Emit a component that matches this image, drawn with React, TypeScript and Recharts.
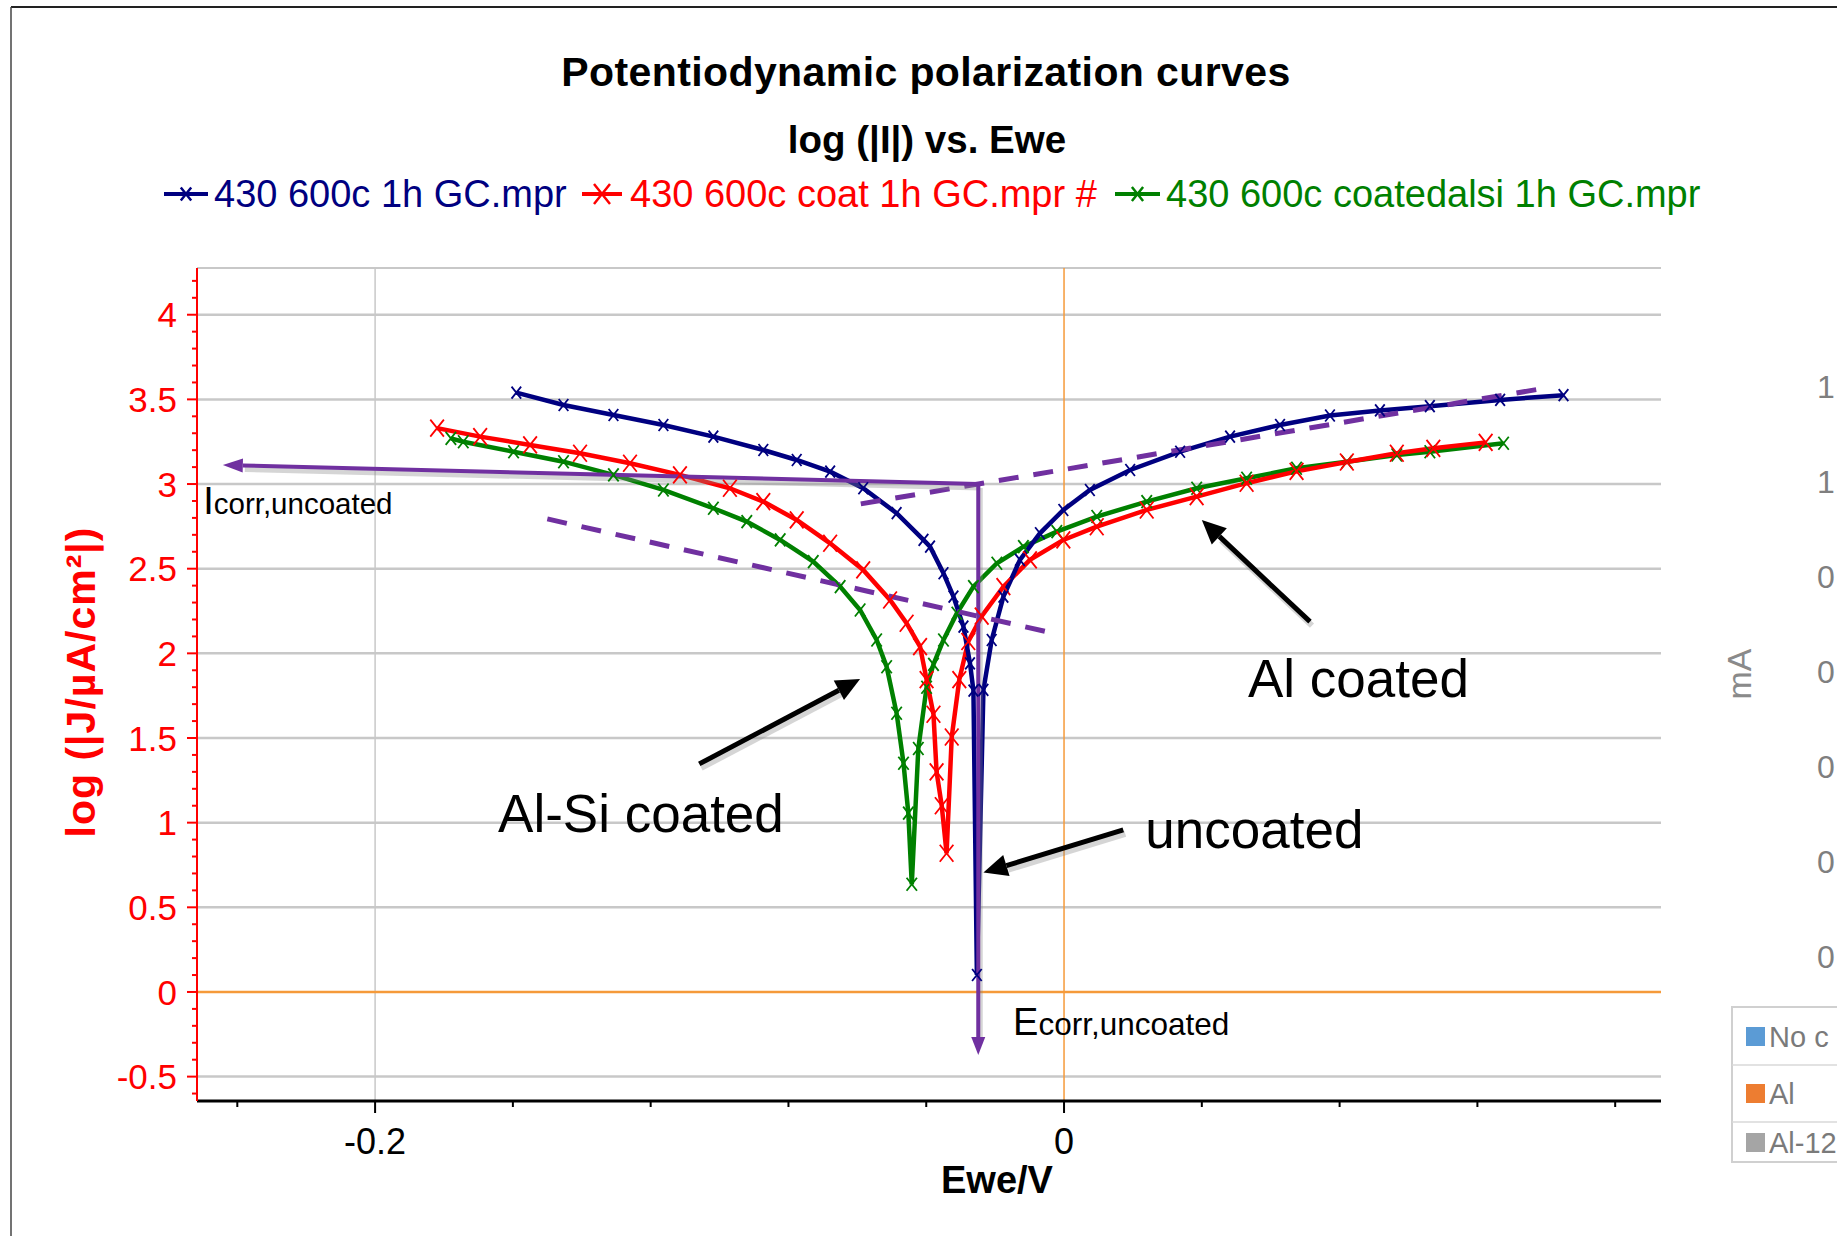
import React from 'react';
import { ComposedChart, Line, XAxis, YAxis, ReferenceLine, ReferenceDot } from 'recharts';

// log|J| vs Ewe
const uncoated = [
  { e: -0.159, j: 3.54 }, { e: -0.1453, j: 3.467 }, { e: -0.1308, j: 3.408 }, { e: -0.1163, j: 3.349 },
  { e: -0.1018, j: 3.28 }, { e: -0.0873, j: 3.201 }, { e: -0.0776, j: 3.142 }, { e: -0.0679, j: 3.073 },
  { e: -0.0583, j: 2.975 }, { e: -0.0486, j: 2.828 }, { e: -0.0408, j: 2.67 }, { e: -0.0389, j: 2.63 },
  { e: -0.035, j: 2.473 }, { e: -0.0321, j: 2.335 }, { e: -0.0292, j: 2.158 }, { e: -0.0273, j: 1.941 },
  { e: -0.0263, j: 1.78 }, { e: -0.0253, j: 0.1 }, { e: -0.0234, j: 1.784 }, { e: -0.021, j: 2.079 },
  { e: -0.0176, j: 2.335 }, { e: -0.0128, j: 2.552 }, { e: -0.007, j: 2.709 }, { e: -0.0002, j: 2.847 },
  { e: 0.0075, j: 2.965 }, { e: 0.0192, j: 3.083 }, { e: 0.0337, j: 3.191 }, { e: 0.0482, j: 3.28 },
  { e: 0.0627, j: 3.349 }, { e: 0.0772, j: 3.405 }, { e: 0.0917, j: 3.435 }, { e: 0.1062, j: 3.46 },
  { e: 0.1266, j: 3.497 }, { e: 0.145, j: 3.525 },
];

const alCoated = [
  { e: -0.182, j: 3.33 }, { e: -0.1695, j: 3.28 }, { e: -0.155, j: 3.231 }, { e: -0.1405, j: 3.182 },
  { e: -0.126, j: 3.123 }, { e: -0.1115, j: 3.054 }, { e: -0.097, j: 2.975 }, { e: -0.0873, j: 2.896 },
  { e: -0.0776, j: 2.788 }, { e: -0.0679, j: 2.65 }, { e: -0.0583, j: 2.493 }, { e: -0.0505, j: 2.315 },
  { e: -0.0457, j: 2.178 }, { e: -0.0418, j: 2.04 }, { e: -0.0399, j: 1.845 }, { e: -0.0379, j: 1.64 },
  { e: -0.037, j: 1.3 }, { e: -0.0355, j: 1.1 }, { e: -0.0341, j: 0.819 }, { e: -0.0326, j: 1.506 },
  { e: -0.0304, j: 1.845 }, { e: -0.0278, j: 2.07 }, { e: -0.0239, j: 2.22 }, { e: -0.0176, j: 2.394 },
  { e: -0.0099, j: 2.552 }, { e: -0.0002, j: 2.67 }, { e: 0.0095, j: 2.748 }, { e: 0.024, j: 2.847 },
  { e: 0.0385, j: 2.926 }, { e: 0.053, j: 3.005 }, { e: 0.0675, j: 3.075 }, { e: 0.0821, j: 3.13 },
  { e: 0.0966, j: 3.182 }, { e: 0.1072, j: 3.211 }, { e: 0.1224, j: 3.246 },
];

const alSiCoated = [
  { e: -0.178, j: 3.27 }, { e: -0.1744, j: 3.25 }, { e: -0.1598, j: 3.191 }, { e: -0.1453, j: 3.132 },
  { e: -0.1308, j: 3.054 }, { e: -0.1163, j: 2.965 }, { e: -0.1018, j: 2.857 }, { e: -0.0921, j: 2.778 },
  { e: -0.0824, j: 2.67 }, { e: -0.0728, j: 2.542 }, { e: -0.065, j: 2.394 }, { e: -0.0592, j: 2.256 },
  { e: -0.0544, j: 2.079 }, { e: -0.0515, j: 1.921 }, { e: -0.0486, j: 1.646 }, { e: -0.0466, j: 1.351 },
  { e: -0.0452, j: 1.056 }, { e: -0.0442, j: 0.636 }, { e: -0.0423, j: 1.438 }, { e: -0.0399, j: 1.8 },
  { e: -0.0379, j: 1.935 }, { e: -0.035, j: 2.079 }, { e: -0.0311, j: 2.237 }, { e: -0.0263, j: 2.394 },
  { e: -0.0195, j: 2.532 }, { e: -0.0118, j: 2.63 }, { e: -0.0021, j: 2.719 }, { e: 0.0095, j: 2.808 },
  { e: 0.024, j: 2.896 }, { e: 0.0385, j: 2.975 }, { e: 0.053, j: 3.034 }, { e: 0.0675, j: 3.093 },
  { e: 0.0821, j: 3.132 }, { e: 0.0966, j: 3.172 }, { e: 0.1062, j: 3.191 }, { e: 0.1276, j: 3.241 },
];

const xDomain = [-0.2517, 0.1733];
const yDomain = [-0.644, 4.276];
const xTicks = [-0.24, -0.2, -0.16, -0.12, -0.08, -0.04, 0, 0.04, 0.08, 0.12, 0.16];
const xLabelTicks = [-0.2, 0];
const yMajorTicks = [-0.5, 0, 0.5, 1, 1.5, 2, 2.5, 3, 3.5, 4];
const yTicks = [
  -0.6, -0.5, -0.4, -0.3, -0.2, -0.1, 0, 0.1, 0.2, 0.3, 0.4, 0.5, 0.6, 0.7, 0.8, 0.9, 1, 1.1, 1.2, 1.3,
  1.4, 1.5, 1.6, 1.7, 1.8, 1.9, 2, 2.1, 2.2, 2.3, 2.4, 2.5, 2.6, 2.7, 2.8, 2.9, 3, 3.1, 3.2, 3.3, 3.4,
  3.5, 3.6, 3.7, 3.8, 3.9, 4, 4.1, 4.2,
];

// Icorr / Ecorr construction and Tafel lines
const icorrPoint = { e: -0.0249, j: 3.0 };
const icorrArrowTip = { e: -0.2442, j: 3.113 };
const ecorrArrowTip = { e: -0.0249, j: -0.372 };
const anodicTafel = [{ e: -0.059, j: 2.883 }, { e: 0.1384, j: 3.562 }];
const cathodicTafel = [{ e: -0.15, j: 2.794 }, { e: -0.0046, j: 2.126 }];
const blackArrows = [
  [{ e: -0.1059, j: 1.347 }, { e: -0.0592, j: 1.848 }],
  [{ e: 0.0172, j: 0.957 }, { e: -0.0234, j: 0.705 }],
  [{ e: 0.0714, j: 2.187 }, { e: 0.04, j: 2.788 }],
];
const curveLabels = [
  { e: 0.0534, j: 1.744, text: 'Al coated' },
  { e: -0.1643, j: 0.945, text: 'Al-Si coated' },
  { e: 0.0236, j: 0.849, text: 'uncoated' },
];

const FONT = '"Liberation Sans", Arial, Helvetica, sans-serif';
const PURPLE = '#7030a0';
const ORANGE = '#f59a3a';
const GRID = '#c8c8c8';

const series = [
  { name: '430 600c coatedalsi 1h GC.mpr', data: alSiCoated, color: '#008000', mark: 13 },
  { name: '430 600c coat 1h GC.mpr #', data: alCoated, color: '#ff0000', mark: 17 },
  { name: '430 600c 1h GC.mpr', data: uncoated, color: '#000080', mark: 12 },
];
const legendItems = [
  { name: '430 600c 1h GC.mpr', color: '#000080', x0: 164, x1: 208, mark: 13, tx: 214 },
  { name: '430 600c coat 1h GC.mpr #', color: '#ff0000', x0: 582, x1: 622, mark: 20, tx: 630 },
  { name: '430 600c coatedalsi 1h GC.mpr', color: '#008000', x0: 1115, x1: 1160, mark: 14, tx: 1166 },
];
// clipped neighbour chart at the right edge of the slide
const sideTicks = ['1', '1', '0', '0', '0', '0', '0'];
const sideLegend = [
  { name: 'No c', color: '#5b9bd5' },
  { name: 'Al', color: '#ed7d31' },
  { name: 'Al-12', color: '#a5a5a5' },
];

const xMark = (color: string, size: number) => (p: any) => {
  const { cx, cy, index } = p;
  if (cx == null || cy == null) return <g key={index} />;
  const h = size / 2;
  return (
    <path
      key={index}
      d={`M${cx - h * 0.8},${cy - h}L${cx + h * 0.8},${cy + h}M${cx - h * 0.8},${cy + h}L${cx + h * 0.8},${cy - h}`}
      stroke={color}
      strokeWidth={1.8}
      fill="none"
    />
  );
};

const arrowShape = (color: string, width: number, headLen: number, headHalf: number) => (p: any) => {
  const x1 = Number(p.x1), y1 = Number(p.y1), x2 = Number(p.x2), y2 = Number(p.y2);
  const dx = x2 - x1, dy = y2 - y1;
  const len = Math.hypot(dx, dy) || 1;
  const ux = dx / len, uy = dy / len;
  const bx = x2 - ux * headLen, by = y2 - uy * headLen;
  const px = -uy, py = ux;
  const pts = `${x2},${y2} ${bx + px * headHalf},${by + py * headHalf} ${bx - px * headHalf},${by - py * headHalf}`;
  return (
    <g>
      <line x1={x1 + 2} y1={y1 + 4} x2={bx + 2} y2={by + 4} stroke="#888" strokeOpacity={0.35} strokeWidth={width + 1} />
      <line x1={x1} y1={y1} x2={bx} y2={by} stroke={color} strokeWidth={width} />
      <polygon points={pts} fill={color} />
    </g>
  );
};

const XTick = (p: any) => {
  const { x, y, payload } = p;
  const v = payload.value;
  const major = xLabelTicks.includes(v);
  return (
    <g>
      <line x1={x} x2={x} y1={y} y2={y + (major ? 12 : 6)} stroke="#000" strokeWidth={2} />
      {major && (
        <text x={x} y={y + 53} textAnchor="middle" fontSize={36} fill="#000" fontFamily={FONT}>
          {String(v)}
        </text>
      )}
    </g>
  );
};

const YTick = (p: any) => {
  const { x, y, payload } = p;
  const v = payload.value;
  const major = yMajorTicks.some((m) => Math.abs(m - v) < 1e-6);
  return (
    <g>
      <line x1={x - (major ? 10 : 5)} x2={x} y1={y} y2={y} stroke="#ff0000" strokeWidth={2} />
      {major && (
        <text x={x - 20} y={y} dy="0.36em" textAnchor="end" fontSize={35} fill="#ff0000" fontFamily={FONT}>
          {String(v)}
        </text>
      )}
    </g>
  );
};

const labelShape = (text: string, size: number) => (p: any) => (
  <text x={p.cx} y={p.cy} fontSize={size} fill="#000" fontFamily={FONT}>
    {text}
  </text>
);

const subLabelShape = (big: string, small: string, smallSize: number) => (p: any) => (
  <text x={p.cx} y={p.cy} fill="#000" fontFamily={FONT}>
    <tspan fontSize={38}>{big}</tspan>
    <tspan fontSize={smallSize}>{small}</tspan>
  </text>
);

export default function App() {
  return (
    <div
      style={{
        position: 'absolute',
        left: 0,
        top: 0,
        width: 1837,
        height: 1236,
        overflow: 'hidden',
        background: '#fff',
        fontFamily: FONT,
      }}
    >
      <ComposedChart width={1837} height={1236} margin={{ top: 268, right: 176, bottom: 0, left: 0 }}>
        <XAxis
          type="number"
          dataKey="e"
          domain={xDomain}
          ticks={xTicks}
          interval={0}
          tick={XTick}
          tickLine={false}
          tickSize={0}
          tickMargin={0}
          height={135}
          axisLine={{ stroke: '#000', strokeWidth: 3 }}
          allowDataOverflow
        />
        <YAxis
          type="number"
          dataKey="j"
          domain={yDomain}
          ticks={yTicks}
          interval={0}
          tick={YTick}
          tickLine={false}
          tickSize={0}
          tickMargin={0}
          width={197}
          axisLine={{ stroke: '#ff0000', strokeWidth: 2 }}
          allowDataOverflow
        />

        <ReferenceLine y={yDomain[1]} stroke={GRID} strokeWidth={2} />
        {yMajorTicks.filter((v) => v !== 0).map((v) => (
          <ReferenceLine key={'gy' + v} y={v} stroke={GRID} strokeWidth={2.5} />
        ))}
        <ReferenceLine x={-0.2} stroke={GRID} strokeWidth={1.5} />
        <ReferenceLine x={0} stroke={ORANGE} strokeWidth={1.5} />
        <ReferenceLine y={0} stroke={ORANGE} strokeWidth={2.5} />

        {series.map((s) => (
          <Line
            key={s.color}
            name={s.name}
            data={s.data}
            dataKey="j"
            type="linear"
            stroke={s.color}
            strokeWidth={4.5}
            dot={xMark(s.color, s.mark)}
            activeDot={false}
            isAnimationActive={false}
          />
        ))}

        <ReferenceLine
          segment={[{ x: cathodicTafel[0].e, y: cathodicTafel[0].j }, { x: cathodicTafel[1].e, y: cathodicTafel[1].j }]}
          stroke={PURPLE}
          strokeWidth={5}
          strokeDasharray="20 15"
        />
        <ReferenceLine
          segment={[{ x: anodicTafel[0].e, y: anodicTafel[0].j }, { x: anodicTafel[1].e, y: anodicTafel[1].j }]}
          stroke={PURPLE}
          strokeWidth={5}
          strokeDasharray="20 15"
        />
        <ReferenceLine
          segment={[{ x: icorrPoint.e, y: icorrPoint.j }, { x: icorrArrowTip.e, y: icorrArrowTip.j }]}
          shape={arrowShape(PURPLE, 4, 20, 7)}
        />
        <ReferenceLine
          segment={[{ x: icorrPoint.e, y: icorrPoint.j }, { x: ecorrArrowTip.e, y: ecorrArrowTip.j }]}
          shape={arrowShape(PURPLE, 4, 18, 7)}
        />
        {blackArrows.map((a, i) => (
          <ReferenceLine
            key={'ba' + i}
            segment={[{ x: a[0].e, y: a[0].j }, { x: a[1].e, y: a[1].j }]}
            shape={arrowShape('#000', 5, 24, 11)}
          />
        ))}

        {curveLabels.map((l) => (
          <ReferenceDot key={l.text} x={l.e} y={l.j} r={0} shape={labelShape(l.text, 53)} />
        ))}
        <ReferenceDot x={-0.2499} y={2.823} r={0} shape={subLabelShape('I', 'corr,uncoated', 29.5)} />
        <ReferenceDot x={-0.0148} y={-0.254} r={0} shape={subLabelShape('E', 'corr,uncoated', 31.5)} />
      </ComposedChart>

      <svg
        width={1837}
        height={1236}
        style={{ position: 'absolute', left: 0, top: 0, pointerEvents: 'none' }}
        fontFamily={FONT}
      >
        <line x1={11} y1={7} x2={1837} y2={7} stroke="#222" strokeWidth={2} />
        <line x1={11} y1={7} x2={11} y2={1236} stroke="#444" strokeWidth={1.5} />

        <text x={926} y={86} textAnchor="middle" fontSize={41} fontWeight="bold" letterSpacing={0.4} fill="#000">
          Potentiodynamic polarization curves
        </text>
        <text x={927} y={153} textAnchor="middle" fontSize={38.5} fontWeight="bold" fill="#000">
          log (|I|) vs. Ewe
        </text>

        {legendItems.map((l) => {
          const cx = (l.x0 + l.x1) / 2;
          const h = l.mark / 2;
          return (
            <g key={l.name}>
              <line x1={l.x0} x2={l.x1} y1={194} y2={194} stroke={l.color} strokeWidth={4} />
              <path
                d={`M${cx - h * 0.8},${194 - h}L${cx + h * 0.8},${194 + h}M${cx - h * 0.8},${194 + h}L${cx + h * 0.8},${194 - h}`}
                stroke={l.color}
                strokeWidth={2.5}
              />
              <text x={l.tx} y={207} fontSize={38} fill={l.color}>
                {l.name}
              </text>
            </g>
          );
        })}

        <text
          x={95}
          y={682}
          transform="rotate(-90 95 682)"
          textAnchor="middle"
          fontSize={41}
          fontWeight="bold"
          letterSpacing={1}
          fill="#ff0000"
        >
          log (|J/µA/cm²|)
        </text>
        <text x={997} y={1193} textAnchor="middle" fontSize={38} fontWeight="bold" fill="#000">
          Ewe/V
        </text>

        {sideTicks.map((t, i) => (
          <text key={'st' + i} x={1817} y={398 + i * 95} fontSize={32} fill="#7f7f7f">
            {t}
          </text>
        ))}
        <text x={1751} y={674} transform="rotate(-90 1751 674)" textAnchor="middle" fontSize={34} fill="#8a8a8a">
          mA
        </text>
        <rect x={1732} y={1007} width={200} height={155} fill="#fff" stroke="#d0d0d0" strokeWidth={2} />
        <line x1={1732} x2={1837} y1={1065} y2={1065} stroke="#d8d8d8" strokeWidth={1.5} />
        <line x1={1732} x2={1837} y1={1122} y2={1122} stroke="#d8d8d8" strokeWidth={1.5} />
        {sideLegend.map((s, i) => {
          const cy = [1036, 1093, 1142][i];
          return (
            <g key={s.name}>
              <rect x={1746} y={cy - 9} width={19} height={19} fill={s.color} />
              <text x={1769} y={cy + 11} fontSize={29} fill="#7a7a7a">
                {s.name}
              </text>
            </g>
          );
        })}
      </svg>
    </div>
  );
}
